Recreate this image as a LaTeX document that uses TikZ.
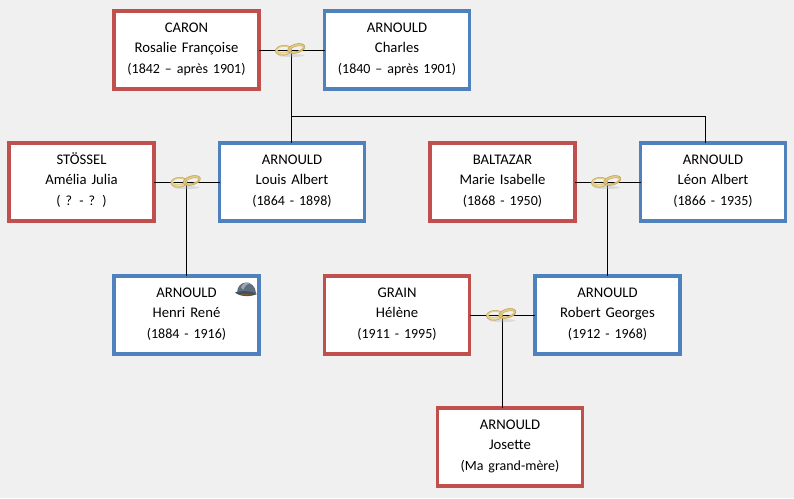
\documentclass[tikz,border=0pt]{standalone}
\usepackage{fontspec}
\setmainfont[WordSpace=0.8]{Carlito}
\usetikzlibrary{calc}
\definecolor{bgc}{HTML}{F0F0F0}
\definecolor{redb}{HTML}{C0504D}
\definecolor{blueb}{HTML}{4F81BD}
\definecolor{ringd}{HTML}{C4A658}
\definecolor{ringm}{HTML}{E2CE8E}
\definecolor{ringl}{HTML}{F1E4B4}
\definecolor{helm}{HTML}{5F6F80}
\definecolor{helmd}{HTML}{46505C}
\definecolor{helml}{HTML}{9AA6B2}
\newcommand\yrline[1]{\rule[-8.75pt]{0pt}{1pt}\raisebox{-.6pt}{\fontsize{14}{20.5}\selectfont #1}}
\tikzset{
  person/.style={draw,line width=3.6pt,fill=white,minimum width=145pt,minimum height=78pt,
    inner sep=0pt,outer sep=0pt,align=center,text width=140pt,
    font=\fontsize{14.7}{20.5}\selectfont,text=black},
  female/.style={person,draw=redb},
  male/.style={person,draw=blueb},
  link/.style={draw=black,line width=0.8pt},
  ringpt/.style={inner sep=0pt,minimum size=1pt,outer sep=0pt},
  rings/.pic={
    \fill[black!30,opacity=.35] (0,5.5) ellipse (13pt and 1.5pt);
    \begin{scope}[rotate=6]
      \fill[ringm,even odd rule] (-7.5,-0.5) ellipse (8.2pt and 5pt) (-7.5,-1.4) ellipse (6pt and 2.6pt);
      \draw[ringd,line width=.5pt] (-7.5,-0.5) ellipse (8.2pt and 5pt);
      \fill[ringl] (-12,1.6) .. controls (-9,3.4) and (-5,3.6) .. (-2,2.6) .. controls (-5,2.8) and (-9,2.6) .. (-12,1.6) -- cycle;
    \end{scope}
    \begin{scope}[rotate=16]
      \fill[ringm,even odd rule] (5.5,0) ellipse (8.8pt and 4.5pt) (5.5,.4) ellipse (7pt and 2.6pt);
      \draw[ringd,line width=.7pt] (5.5,0) ellipse (8.8pt and 4.5pt);
      \draw[ringd,line width=.5pt] (5.5,.4) ellipse (7pt and 2.6pt);
    \end{scope}
  }
}
\begin{document}
\begin{tikzpicture}[x=1pt,y=-1pt]
\useasboundingbox[fill=bgc] (0,0) rectangle (794,498);
% persons
\node[female] (caron) at (186.5,50) {\strut CARON\\Rosalie Françoise\\\yrline{(1842 – après 1901)}};
\node[male] (charles) at (397,50) {\strut ARNOULD\\Charles\\\yrline{(1840 – après 1901)}};
\node[female] (stossel) at (81.5,182) {\strut STÖSSEL\\Amélia Julia\\\yrline{( ? - ? )}};
\node[male] (louis) at (292,182) {\strut ARNOULD\\Louis Albert\\\yrline{(1864 - 1898)}};
\node[female] (baltazar) at (502.5,182) {\strut BALTAZAR\\Marie Isabelle\\\yrline{(1868 - 1950)}};
\node[male] (leon) at (713,182) {\strut ARNOULD\\Léon Albert\\\yrline{(1866 - 1935)}};
\node[male] (henri) at (186.5,315) {\strut ARNOULD\\Henri René\\\yrline{(1884 - 1916)}};
\node[female] (grain) at (397,315) {\strut GRAIN\\Hélène\\\yrline{(1911 - 1995)}};
\node[male] (robert) at (607.5,315) {\strut ARNOULD\\Robert Georges\\\yrline{(1912 - 1968)}};
\node[female] (josette) at (510,447) {\strut ARNOULD\\Josette\\\yrline{(Ma grand-mère)}};
% marriage points
\node[ringpt] (m1) at (291,50) {};
\node[ringpt] (m2) at (186.5,182) {};
\node[ringpt] (m3) at (607,182) {};
\node[ringpt] (m4) at (502,315) {};
\coordinate (trunk) at (291,116);
% connectors
\draw[link] (caron) -- (charles);
\draw[link] (stossel) -- (louis);
\draw[link] (baltazar) -- (leon);
\draw[link] (grain) -- (robert);
\draw[link] (m1) -- (m1 |- louis.north);
\draw[link] (trunk) -| ($(leon.north)+(-8,0)$);
\draw[link] (m2) -- (henri.north);
\draw[link] (m3) -- (m3 |- robert.north);
\draw[link] (m4) -- (m4 |- josette.north);
% rings
\foreach \p in {m1,m2,m3,m4} {\pic at (\p) {rings};}
% helmet
\begin{scope}[shift={(246,289)}]
  \fill[helm] (-9,4) .. controls (-9,-10) and (9,-10) .. (10,4) -- cycle;
  \fill[helml] (-5,-2) .. controls (-3,-6) and (1,-7.5) .. (4,-6) .. controls (0,-4) and (-2,-2) .. (-3,1) -- cycle;
  \fill[helmd] (-11,3.5) .. controls (-5,1.5) and (5,1.5) .. (11,5) .. controls (5,8) and (-6,8) .. (-11,3.5) -- cycle;
  \draw[brown!70!black,line width=.9pt] (-5,5.2) -- (6,6);
\end{scope}
\end{tikzpicture}
\end{document}
